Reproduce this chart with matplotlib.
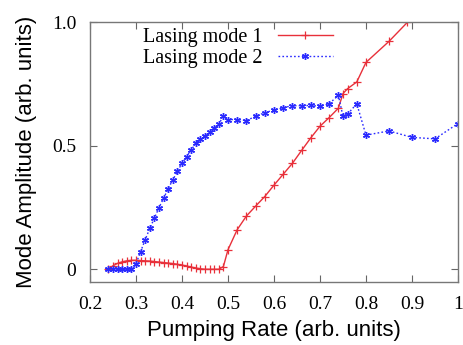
import matplotlib
matplotlib.use("Agg")
import matplotlib.pyplot as plt

# Lasing mode 1
x1 = [0.24, 0.25, 0.26, 0.27, 0.28, 0.29, 0.30, 0.31, 0.32, 0.33, 0.34, 0.35,
      0.36, 0.37, 0.38, 0.39, 0.40, 0.41, 0.42, 0.43, 0.44, 0.45, 0.46, 0.47,
      0.48, 0.49, 0.50, 0.52, 0.54, 0.56, 0.58, 0.60, 0.62, 0.64, 0.66, 0.68,
      0.70, 0.72, 0.74, 0.75, 0.76, 0.78, 0.80, 0.85, 0.89, 0.90]
y1 = [0.003, 0.015, 0.025, 0.031, 0.035, 0.037, 0.037, 0.036, 0.035, 0.034,
      0.032, 0.030, 0.028, 0.026, 0.024, 0.021, 0.018, 0.014, 0.010, 0.006,
      0.003, 0.001, 0.001, 0.001, 0.001, 0.012, 0.080, 0.161, 0.216, 0.256,
      0.295, 0.341, 0.385, 0.429, 0.481, 0.532, 0.579, 0.614, 0.652, 0.711,
      0.731, 0.758, 0.837, 0.922, 0.999, 1.02]

# Lasing mode 2
x2 = [0.24, 0.25, 0.26, 0.27, 0.28, 0.29, 0.30, 0.31, 0.32, 0.33, 0.34, 0.35,
      0.36, 0.37, 0.38, 0.39, 0.40, 0.41, 0.42, 0.43, 0.44, 0.45, 0.46, 0.47,
      0.48, 0.49, 0.50, 0.52, 0.54, 0.56, 0.58, 0.60, 0.62, 0.64, 0.66, 0.68,
      0.70, 0.72, 0.74, 0.75, 0.76, 0.78, 0.80, 0.85, 0.90, 0.95, 1.00]
y2 = [0.0, 0.0, 0.0, 0.0, 0.0, 0.0, 0.024, 0.072, 0.121, 0.166, 0.208, 0.250,
      0.288, 0.327, 0.362, 0.397, 0.429, 0.456, 0.483, 0.510, 0.527, 0.540,
      0.554, 0.570, 0.587, 0.621, 0.606, 0.606, 0.602, 0.619, 0.634, 0.644,
      0.654, 0.662, 0.662, 0.663, 0.660, 0.670, 0.704, 0.619, 0.628, 0.670,
      0.543, 0.560, 0.534, 0.528, 0.590]

xticks = [0.2, 0.3, 0.4, 0.5, 0.6, 0.7, 0.8, 0.9, 1.0]
xticklabels = ["0.2", "0.3", "0.4", "0.5", "0.6", "0.7", "0.8", "0.9", "1"]
yticks = [0, 0.5, 1.0]
yticklabels = ["0", "0.5", "1.0"]

serif = ["Liberation Serif", "DejaVu Serif"]
sans = ["Liberation Sans", "DejaVu Sans"]

fig = plt.figure(figsize=(4.64, 3.45), dpi=100)
ax = fig.add_axes([0.194, 0.183, 0.793, 0.753])

ax.plot(x1, y1, color="#e8303a", lw=1.0, marker="+", ms=6, mew=0.9,
        label="Lasing mode 1")
ax.plot(x2, y2, color="#2a2aff", lw=1.0, ls=(0, (1.2, 1.6)), marker=(6, 2, 0),
        ms=5, mew=1.0, label="Lasing mode 2")

ax.set_xlim(0.2, 1.0)
ax.set_ylim(-0.05, 1.0)
ax.set_xticks(xticks)
ax.set_xticklabels(xticklabels, fontfamily=serif, fontsize=14)
ax.set_yticks(yticks)
ax.set_yticklabels(yticklabels, fontfamily=serif, fontsize=14)
ax.tick_params(direction="in", top=True, right=True, length=5, width=0.8,
               color="#666666", pad=10)
for s in ax.spines.values():
    s.set_color("#777777")
    s.set_linewidth(1.0)

ax.set_xlabel("Pumping Rate (arb. units)", fontfamily=sans, fontsize=16)
ax.set_ylabel("Mode Amplitude (arb. units)", fontfamily=sans, fontsize=16)
ax.xaxis.set_label_coords(0.5, -0.145)
ax.yaxis.set_label_coords(-0.145, 0.5)

leg = ax.legend(loc="upper left", bbox_to_anchor=(0.11, 1.025), frameon=False,
                markerfirst=False, prop={"family": serif, "size": 14.5},
                handlelength=2.7, handletextpad=0.8, labelspacing=0.1,
                borderaxespad=0.2)

fig.savefig("out.png", dpi=100)
